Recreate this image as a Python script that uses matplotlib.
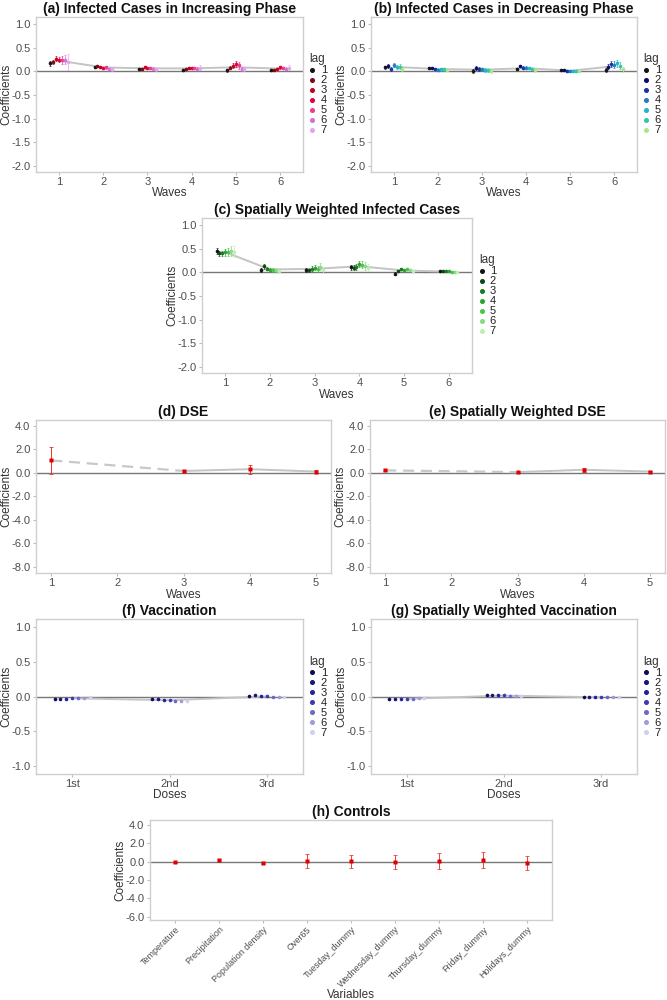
import matplotlib
matplotlib.use("Agg")
import matplotlib.pyplot as plt
from matplotlib.lines import Line2D
import numpy as np

plt.rcParams['font.family'] = ['Liberation Sans', 'DejaVu Sans']
plt.rcParams['axes.unicode_minus'] = False

W, H = 667, 1000

# ---------------- data ----------------
lags = [1, 2, 3, 4, 5, 6, 7]
waves6 = [1, 2, 3, 4, 5, 6]
waves5 = [1, 2, 3, 4, 5]
doses = ["1st", "2nd", "3rd"]

# rows = lag 1..7, cols = waves
inc_coef = [
    [0.17, 0.09, 0.06, 0.03, 0.02, 0.03],
    [0.20, 0.12, 0.05, 0.06, 0.08, 0.03],
    [0.27, 0.10, 0.09, 0.07, 0.12, 0.05],
    [0.25, 0.08, 0.07, 0.07, 0.15, 0.09],
    [0.24, 0.09, 0.07, 0.07, 0.13, 0.07],
    [0.25, 0.05, 0.06, 0.06, 0.05, 0.06],
    [0.20, 0.05, 0.04, 0.08, 0.05, 0.08],
]
inc_err = [
    [0.05, 0.02, 0.02, 0.02, 0.03, 0.02],
    [0.04, 0.02, 0.02, 0.02, 0.03, 0.02],
    [0.05, 0.02, 0.02, 0.02, 0.05, 0.02],
    [0.06, 0.02, 0.02, 0.02, 0.06, 0.03],
    [0.08, 0.03, 0.03, 0.03, 0.07, 0.03],
    [0.10, 0.03, 0.03, 0.04, 0.05, 0.04],
    [0.17, 0.04, 0.03, 0.06, 0.05, 0.05],
]
dec_coef = [
    [0.09, 0.08, 0.01, 0.06, 0.03, 0.03],
    [0.12, 0.08, 0.07, 0.11, 0.03, 0.10],
    [0.05, 0.05, 0.05, 0.08, 0.01, 0.16],
    [0.14, 0.03, 0.04, 0.08, 0.00, 0.14],
    [0.09, 0.04, 0.03, 0.07, 0.00, 0.17],
    [0.10, 0.04, 0.02, 0.05, 0.00, 0.12],
    [0.06, 0.03, 0.01, 0.03, 0.01, 0.04],
]
dec_err = [
    [0.03, 0.02, 0.04, 0.02, 0.02, 0.05],
    [0.04, 0.02, 0.04, 0.02, 0.02, 0.05],
    [0.04, 0.02, 0.04, 0.03, 0.02, 0.06],
    [0.04, 0.02, 0.04, 0.03, 0.02, 0.07],
    [0.05, 0.03, 0.04, 0.03, 0.02, 0.08],
    [0.05, 0.03, 0.04, 0.03, 0.02, 0.07],
    [0.06, 0.03, 0.04, 0.04, 0.02, 0.06],
]
sw_coef = [
    [0.45, 0.05, 0.05, 0.11, -0.03, 0.02],
    [0.40, 0.13, 0.04, 0.10, 0.03, 0.02],
    [0.40, 0.08, 0.08, 0.12, 0.07, 0.02],
    [0.42, 0.06, 0.10, 0.18, 0.05, 0.02],
    [0.43, 0.05, 0.07, 0.16, 0.07, 0.01],
    [0.45, 0.04, 0.12, 0.14, 0.05, 0.01],
    [0.44, 0.02, 0.05, 0.10, 0.03, 0.01],
]
sw_err = [
    [0.06, 0.04, 0.04, 0.05, 0.03, 0.01],
    [0.05, 0.05, 0.04, 0.05, 0.03, 0.01],
    [0.06, 0.04, 0.05, 0.06, 0.03, 0.01],
    [0.07, 0.04, 0.06, 0.07, 0.03, 0.01],
    [0.08, 0.04, 0.06, 0.07, 0.03, 0.01],
    [0.10, 0.04, 0.07, 0.08, 0.03, 0.01],
    [0.12, 0.04, 0.06, 0.08, 0.03, 0.01],
]
dse_waves = [1, 3, 4, 5]
dse_coef = [1.05, 0.15, 0.30, 0.10]
dse_err = [1.15, 0.08, 0.40, 0.10]
swdse_coef = [0.20, 0.05, 0.25, 0.10]
swdse_err = [0.08, 0.05, 0.15, 0.08]

vac_coef = [
    [-0.03, -0.04, 0.01],
    [-0.03, -0.04, 0.02],
    [-0.03, -0.05, 0.01],
    [-0.02, -0.05, 0.01],
    [-0.02, -0.06, 0.00],
    [-0.02, -0.06, -0.01],
    [-0.01, -0.06, -0.01],
]
swvac_coef = [
    [-0.04, 0.02, -0.01],
    [-0.04, 0.02, -0.01],
    [-0.04, 0.02, -0.01],
    [-0.03, 0.02, -0.01],
    [-0.03, 0.01, -0.01],
    [-0.02, 0.01, -0.01],
    [-0.02, 0.01, -0.01],
]

ctrl_vars = ["Temperature", "Precipitation", "Population density", "Over65",
             "Tuesday_dummy", "Wednesday_dummy", "Thursday_dummy",
             "Friday_dummy", "Holidays_dummy"]
ctrl_coef = [-0.05, 0.20, -0.15, 0.10, 0.05, -0.05, 0.05, 0.20, -0.15]
ctrl_err = [0.05, 0.08, 0.05, 0.75, 0.70, 0.75, 0.85, 0.85, 0.75]

# colours
red_pal = ['#141414', '#7a0c16', '#c4001a', '#e3003a', '#ef3a8e', '#d46fd6', '#e2a6ec']
blue_pal = ['#141414', '#0b0b6e', '#1833a3', '#1f7fc0', '#22b5cc', '#33c6a4', '#a9e68a']
green_pal = ['#141414', '#0a4a12', '#197a1f', '#2ba32f', '#4cc34c', '#86da80', '#bdeeb5']
purple_pal = ['#0c0c52', '#16167c', '#2222a0', '#3b3bb2', '#6a6ac8', '#9c9cda', '#cfcfee']

GRAY_LINE = '#c4c4c4'
ZERO = '#777777'
TICKC = '#4d4d4d'


def make_ax(l, r, t, b):
    ax = plt.gcf().add_axes([l / W, 1 - b / H, (r - l) / W, (b - t) / H])
    ax._px = (l, r, t, b)
    for s in ax.spines.values():
        s.set_color('#cfcfcf')
        s.set_linewidth(1.0)
    ax.tick_params(colors='#bdbdbd', labelcolor=TICKC, labelsize=8, length=2.5,
                   width=0.8, pad=1.5)
    ax.tick_params(axis='x', pad=1.0)
    return ax


def finish(ax, title, xlabel, ylim, yticks, xlab_off=15.5, fmt="{:.1f}"):
    l, r, t, b = ax._px
    ax.set_title(title, fontsize=10, fontweight='bold', pad=3, color='#111111')
    ax.set_xlabel(xlabel, fontsize=8.5, color='#333333')
    ax.xaxis.set_label_coords(0.5, -xlab_off / (b - t))
    ax.set_ylabel("Coefficients", fontsize=8.5, color='#333333')
    ax.yaxis.set_label_coords(-24.0 / (r - l), 0.5)
    ax.set_ylim(*ylim)
    ax.set_yticks(yticks)
    ax.set_yticklabels([fmt.format(v) for v in yticks])
    ax.axhline(0, color=ZERO, lw=1.0, zorder=1)


def lag_panel(ax, xs, coef, err, pal, spacing):
    coef = np.array(coef)
    means = coef.mean(axis=0)
    ax.plot(xs, means, color=GRAY_LINE, lw=1.4, zorder=2)
    for i, lag in enumerate(lags):
        xp = np.array(xs) + (i - 3) * spacing
        if err is not None:
            e = np.array(err[i])
            ax.errorbar(xp, coef[i], yerr=e, fmt='none', ecolor=pal[i],
                        elinewidth=0.6, capsize=1.0, capthick=0.5,
                        linestyle=':', zorder=3, alpha=0.85)
        ax.plot(xp, coef[i], 'o', color=pal[i], ms=2.6, mec='none', zorder=4)
    handles = [Line2D([], [], marker='o', ms=2.6, color=c, lw=0) for c in pal]
    leg = ax.legend(handles, [str(l) for l in lags], title='lag',
                    loc='center left', bbox_to_anchor=(1.025, 0.5),
                    frameon=False, fontsize=8, title_fontsize=8.5,
                    handlelength=0.5, handletextpad=0.5, labelspacing=0.0,
                    borderaxespad=0, borderpad=0)
    leg._legend_box.align = 'left'
    for t in leg.get_texts():
        t.set_color('#222222')
    leg.get_title().set_color('#333333')


fig = plt.figure(figsize=(W / 100, H / 100), dpi=100)
fig.patch.set_facecolor('white')

yt_inf = [1.0, 0.5, 0.0, -0.5, -1.0, -1.5, -2.0]

# (a)
ax = make_ax(36, 303, 17, 172)
lag_panel(ax, waves6, inc_coef, inc_err, red_pal, 0.065)
ax.set_xlim(0.48, 6.52)
ax.set_xticks(waves6)
finish(ax, "(a) Infected Cases in Increasing Phase", "Waves", (-2.13, 1.15), yt_inf)

# (b)
ax = make_ax(371, 637, 17, 172)
lag_panel(ax, waves6, dec_coef, dec_err, blue_pal, 0.065)
ax.set_xlim(0.48, 6.52)
ax.set_xticks(waves6)
finish(ax, "(b) Infected Cases in Decreasing Phase", "Waves", (-2.13, 1.15), yt_inf)

# (c)
ax = make_ax(202, 472, 218, 373)
lag_panel(ax, waves6, sw_coef, sw_err, green_pal, 0.065)
ax.set_xlim(0.48, 6.52)
ax.set_xticks(waves6)
finish(ax, "(c) Spatially Weighted Infected Cases", "Waves", (-2.13, 1.15), yt_inf)

yt_dse = [4.0, 2.0, 0.0, -2.0, -4.0, -6.0, -8.0]


def dse_panel(ax, coef, err, title):
    ax.plot(dse_waves[:2], coef[:2], color='#c8c8c8', lw=1.6, ls=(0, (5, 3)), zorder=2)
    ax.plot(dse_waves[1:], coef[1:], color=GRAY_LINE, lw=1.4, zorder=2)
    ax.errorbar(dse_waves, coef, yerr=err, fmt='none', ecolor='#e83030',
                elinewidth=0.7, capsize=1.5, capthick=0.6, linestyle=':', zorder=3)
    ax.plot(dse_waves, coef, 's', color='#e00000', ms=2.6, mec='none', zorder=4)
    ax.set_xlim(0.77, 5.23)
    ax.set_xticks(waves5)
    finish(ax, title, "Waves", (-8.54, 4.49), yt_dse)


ax = make_ax(36, 331, 420, 573)
dse_panel(ax, dse_coef, dse_err, "(d) DSE")
ax = make_ax(370, 665, 420, 573)
dse_panel(ax, swdse_coef, swdse_err, "(e) Spatially Weighted DSE")

yt_vac = [1.0, 0.5, 0.0, -0.5, -1.0]
dose_x = [1, 2, 3]

ax = make_ax(36, 303, 619, 774)
lag_panel(ax, dose_x, vac_coef, None, purple_pal, 0.06)
ax.set_xlim(0.63, 3.37)
ax.set_xticks(dose_x)
ax.set_xticklabels(doses)
finish(ax, "(f) Vaccination", "Doses", (-1.115, 1.12), yt_vac)

ax = make_ax(371, 637, 619, 774)
lag_panel(ax, dose_x, swvac_coef, None, purple_pal, 0.06)
ax.set_xlim(0.63, 3.37)
ax.set_xticks(dose_x)
ax.set_xticklabels(doses)
finish(ax, "(g) Spatially Weighted Vaccination", "Doses", (-1.115, 1.12), yt_vac)

# (h)
ax = make_ax(150, 552, 820, 920)
xc = np.arange(1, len(ctrl_vars) + 1)
ax.errorbar(xc, ctrl_coef, yerr=ctrl_err, fmt='none', ecolor='#e84040',
            elinewidth=0.7, capsize=1.5, capthick=0.6, linestyle=':', zorder=3)
ax.plot(xc, ctrl_coef, 's', color='#e00000', ms=2.4, mec='none', zorder=4)
ax.set_xlim(0.43, 9.57)
ax.set_xticks(xc)
ax.set_xticklabels(ctrl_vars, rotation=45, ha='right', rotation_mode='anchor', fontsize=6.5)
finish(ax, "(h) Controls", "Variables", (-6.37, 4.56), [4.0, 2.0, 0.0, -2.0, -4.0, -6.0],
       xlab_off=69)

fig.savefig("out.png", dpi=100, facecolor='white')
